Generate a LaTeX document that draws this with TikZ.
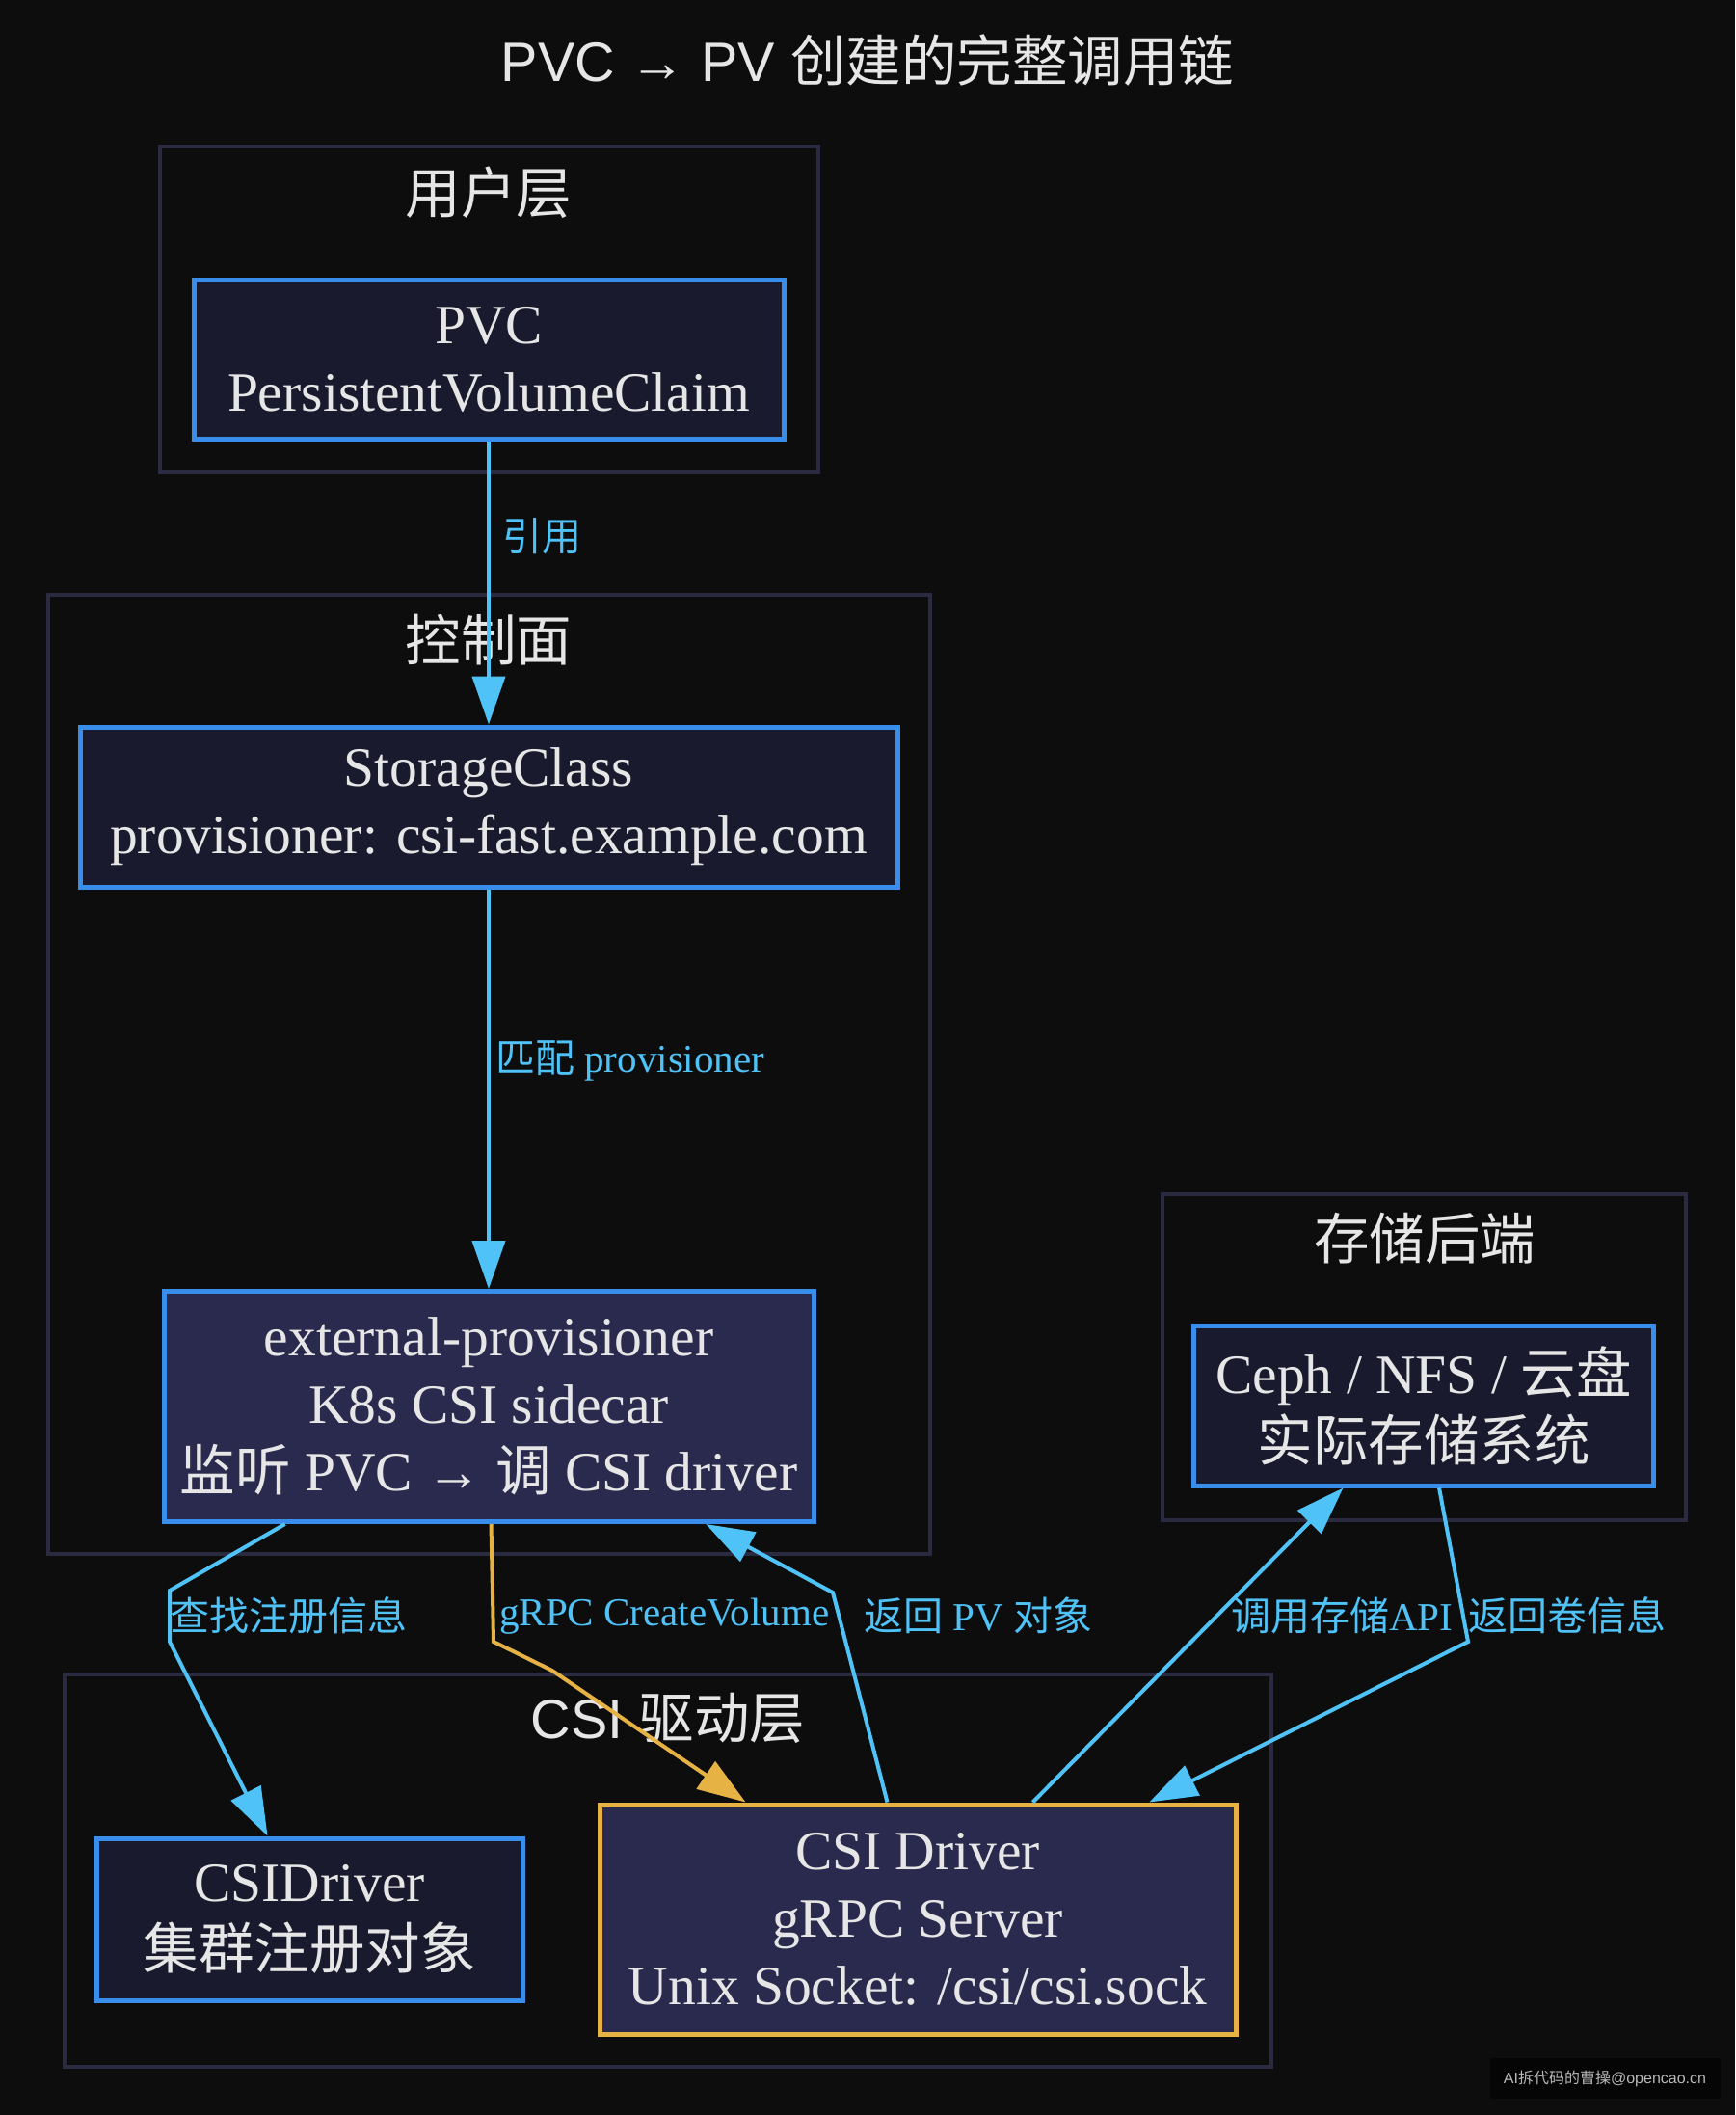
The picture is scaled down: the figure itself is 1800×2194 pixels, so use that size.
\documentclass[tikz,border=0pt]{standalone}
\usepackage{fontspec}
\setmainfont{Liberation Serif}
\newfontfamily\cjk{Noto Sans CJK SC}
\newfontfamily\hei{Liberation Sans}
\usetikzlibrary{arrows.meta}
\definecolor{bgc}{HTML}{0D0D0D}
\definecolor{clc}{HTML}{2A2A40}
\definecolor{boxc}{HTML}{3A8EEB}
\definecolor{fillc}{HTML}{1A1A2E}
\definecolor{hifill}{HTML}{2A2A4E}
\definecolor{goldc}{HTML}{E5B243}
\definecolor{edgec}{HTML}{4FC3F7}
\definecolor{txtc}{HTML}{E6E6E6}
\definecolor{wmbg}{HTML}{050505}
\definecolor{wmtext}{HTML}{B8B8B8}
\newcommand{\zh}[1]{{\cjk #1}}

\begin{document}
\begin{tikzpicture}[x=1pt,y=-1pt,
  every node/.style={text=txtc},
  cluster/.style={draw=clc,line width=3.5pt},
  clabel/.style={font=\hei\fontsize{57.5}{70}\selectfont},
  nodebox/.style={draw=boxc,fill=fillc,line width=5pt,align=center,inner sep=0pt,
    font=\fontsize{57.5}{70}\selectfont},
  hibox/.style={nodebox,fill=hifill},
  link/.style={color=edgec,line width=4pt,-{Triangle[length=50pt,width=34pt]}},
  elabel/.style={text=edgec,font=\fontsize{41}{48}\selectfont,anchor=west,inner sep=0pt}]
  \fill[bgc] (0,0) rectangle (1800,2194);
  \node[clabel] (title) at (900,63) {PVC → PV \zh{创建的完整调用链}};

  \draw[cluster] (166,152) rectangle (849,490);
  \node[clabel] (userl) at (507,200) {\zh{用户层}};
  \draw[cluster] (50,617) rectangle (965,1612);
  \node[clabel] (ctrll) at (507,664) {\zh{控制面}};
  \draw[cluster] (1206,1239) rectangle (1749,1577);
  \node[clabel] (storl) at (1478,1285) {\zh{存储后端}};
  \draw[cluster] (67,1737) rectangle (1319,2144);
  \node[clabel] (csil) at (693,1782) {CSI \zh{驱动层}};

  \node[nodebox,minimum width=612,minimum height=165] (pvc) at (507,373)
    {PVC\\PersistentVolumeClaim};
  \node[nodebox,minimum width=848,minimum height=166] (sc) at (507,837)
    {StorageClass\\provisioner: csi-fast.example.com};
  \node[hibox,minimum width=674,minimum height=239] (extprov) at (507,1459)
    {external-provisioner\\K8s CSI sidecar\\\zh{监听} PVC → \zh{调} CSI driver};
  \node[nodebox,minimum width=477,minimum height=166] (ceph) at (1477,1458)
    {Ceph / NFS / \zh{云盘}\\\zh{实际存储系统}};
  \node[nodebox,minimum width=442,minimum height=168] (csiobj) at (321,1991)
    {CSIDriver\\\zh{集群注册对象}};
  \node[hibox,draw=goldc,minimum width=660,minimum height=238] (driver) at (952,1991)
    {CSI Driver\\gRPC Server\\Unix Socket: /csi/csi.sock};

  \draw[link] (pvc) -- (sc);
  \draw[link] (sc) -- (extprov);
  \draw[link] (extprov) -- (176,1650) -- (176,1703) -- (csiobj);
  \draw[link,color=goldc] (extprov) -- (512,1703) -- (573,1733) -- (driver);
  \draw[link] (driver) -- (864,1652) -- (extprov);
  \draw[link] (driver) -- (ceph);
  \draw[link] (ceph) -- (1523,1703) -- (driver);

  \node[elabel] (lref) at (521,556) {\zh{引用}};
  \node[elabel] (lmatch) at (514,1100) {\zh{匹配} provisioner};
  \node[elabel] (lfind) at (176,1676) {\zh{查找注册信息}};
  \node[elabel] (lgrpc) at (518,1677) {gRPC CreateVolume};
  \node[elabel] (lret) at (896,1676) {\zh{返回} PV \zh{对象}};
  \node[elabel] (lcall) at (1277,1676) {\zh{调用存储}API};
  \node[elabel] (lvol) at (1523,1676) {\zh{返回卷信息}};

  \node[fill=wmbg,minimum width=239,minimum height=42,text=wmtext,
    font=\hei\fontsize{16}{18}\selectfont] (wm) at (1665,2156)
    {AI\zh{拆代码的曹操}@opencao.cn};
\end{tikzpicture}
\end{document}
